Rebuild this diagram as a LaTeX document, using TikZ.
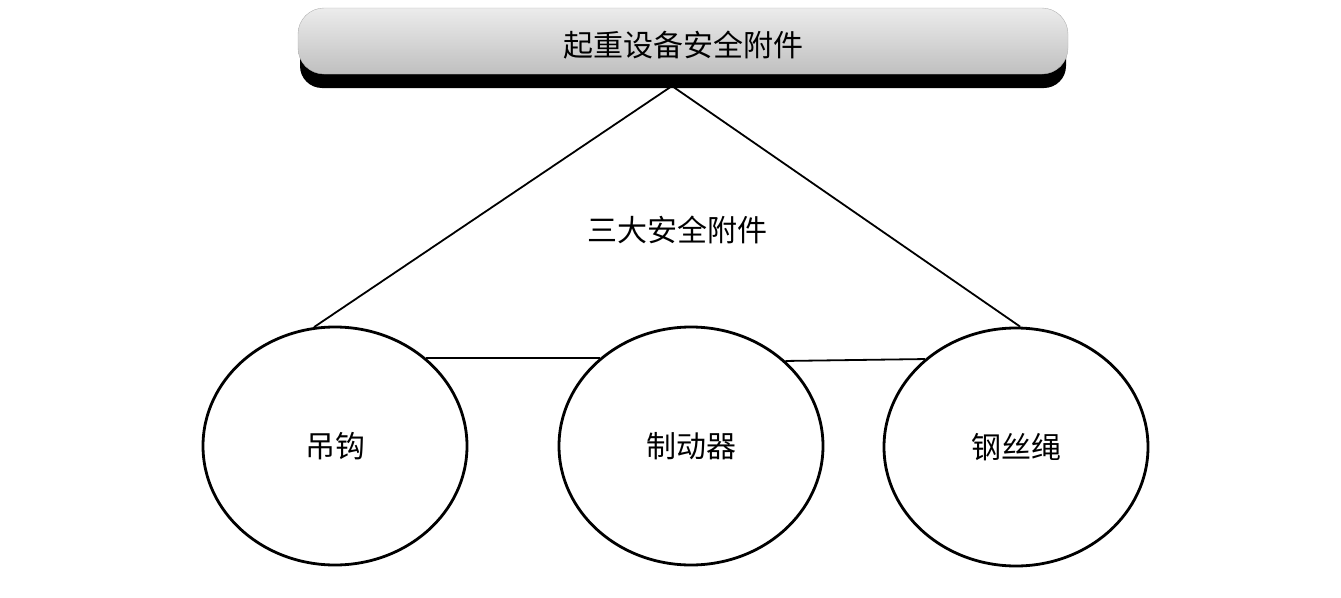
\documentclass[tikz,border=0pt]{standalone}
\usepackage{fontspec}
\usetikzlibrary{shapes.geometric,calc}
\newfontfamily\cjk{Noto Sans CJK SC}
\begin{document}
\begin{tikzpicture}[x=1pt,y=-1pt,
  circ/.style={draw,line width=2.8pt,ellipse,inner sep=0pt,minimum width=264pt,minimum height=238pt,font=\cjk\fontsize{30}{34}\selectfont},
  lbl/.style={font=\cjk\fontsize{30}{34}\selectfont},
  conn/.style={line width=1.8pt}]
\useasboundingbox (0,0) rectangle (1341,597);
\fill[black,rounded corners=22pt] (300,24) rectangle (1066,88);
\shade[top color=gray!15,bottom color=gray!50,rounded corners=26pt,draw=gray!60] (298,8) rectangle (1068,74);
\node[lbl] (top) at (683,45) {起重设备安全附件};
\coordinate (apex) at (672,86);
\node[circ] (a) at (335,446) {吊钩};
\node[circ] (b) at (691,446) {制动器};
\node[circ] (c) at (1016,447) {钢丝绳};
\node[lbl] (mid) at (677,230) {三大安全附件};
\draw[conn] (apex) -- (a.100);
\draw[conn] (apex) -- (c.88);
\draw[conn] (a.44) -- (b.136);
\draw[conn] (b.42) -- (c.136);
\end{tikzpicture}
\end{document}
